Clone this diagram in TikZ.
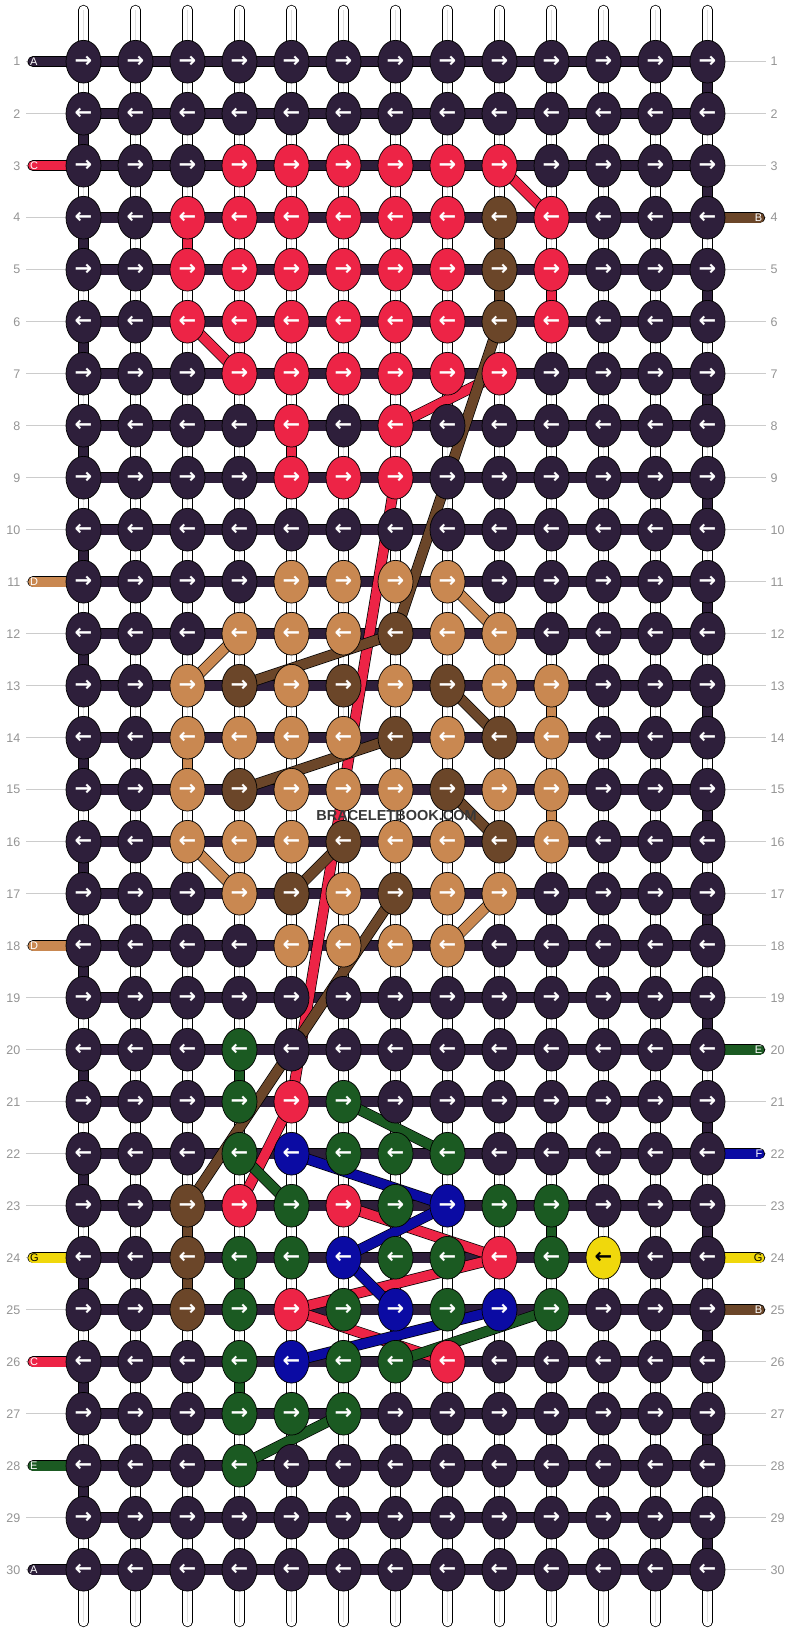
\documentclass[tikz,border=0pt]{standalone}
\usepackage{fontspec}
\setmainfont{Liberation Sans}
\newfontfamily\arrowfont{DejaVu Sans}[BoldFont={DejaVu Sans Bold}]
\usepackage{xstring}
\usetikzlibrary{shapes.geometric}

\definecolor{kA}{HTML}{2E1F3B}
\definecolor{kB}{HTML}{6B4629}
\definecolor{kC}{HTML}{ED2446}
\definecolor{kD}{HTML}{C98851}
\definecolor{kE}{HTML}{1B5A22}
\definecolor{kF}{HTML}{0B0BA3}
\definecolor{kG}{HTML}{F0D80C}
\colorlet{aA}{white}
\colorlet{aB}{white}
\colorlet{aC}{white}
\colorlet{aD}{white}
\colorlet{aE}{white}
\colorlet{aF}{white}
\colorlet{aG}{black}

\begin{document}
\begin{tikzpicture}[x=1pt,y=-1pt,
		warp/.style={draw=black,line width=0.8pt,double=white,double distance=8.6pt,line cap=round},
		thread/.style={draw=black,line width=0.7pt,double=k#1,double distance=9.6pt},
		knot/.style={ellipse,draw=black,line width=0.7pt,fill=k#1,text=a#1,
			minimum width=35pt,minimum height=42.7pt,inner sep=0pt,
			font=\arrowfont\bfseries\fontsize{21}{21}\selectfont},
		guide/.style={draw=black!20,line width=0.8pt},
		rownum/.style={text=black!42,font=\fontsize{12.5}{13}\selectfont,inner sep=0pt},
		tabtext/.style={text=a#1,font=\fontsize{11}{11}\selectfont,inner sep=0pt}]
	
	\useasboundingbox (0,0) rectangle (792,1632);
	
	\foreach \r in {1,...,30}
		\foreach \c in {1,...,13}
			\coordinate (p-\r-\c) at ({31.5+52*\c},{9.7+52*\r});
	
	\foreach \c in {1,...,13} {
		\coordinate (top-\c) at ({31.5+52*\c},10);
		\coordinate (bot-\c) at ({31.5+52*\c},1622);
		\draw[warp] (top-\c) -- (bot-\c);
		\draw[draw=black!12,line width=0.7pt] (top-\c) -- (bot-\c);
	}
	
	\foreach \r in {1,...,30} {
		\coordinate (gl-\r) at (26,{9.7+52*\r});
		\coordinate (gr-\r) at (766,{9.7+52*\r});
		\draw[guide] (gl-\r) -- (p-\r-1);
		\draw[guide] (p-\r-13) -- (gr-\r);
		\node[rownum,anchor=east] (nl-\r) at (20.5,{9.7+52*\r}) {\r};
		\node[rownum,anchor=west] (nr-\r) at (770.5,{9.7+52*\r}) {\r};
	}
	
	\foreach \r/\kc in {1/A,3/C,11/D,18/D,24/G,26/C,28/E,30/A} {
		\coordinate (tl-\r) at (33,{9.7+52*\r});
		\draw[thread=\kc,line cap=round] (tl-\r) -- (p-\r-1);
		\node[tabtext=\kc,anchor=west] (ltab-\r) at (30,{9.7+52*\r}) {\kc};
	}
	\foreach \r/\kc in {4/B,20/E,22/F,24/G,25/B} {
		\coordinate (tr-\r) at (759.5,{9.7+52*\r});
		\draw[thread=\kc,line cap=round] (p-\r-13) -- (tr-\r);
		\node[tabtext=\kc,anchor=east] (rtab-\r) at (762.5,{9.7+52*\r}) {\kc};
	}
	
	\foreach \r in {1,...,30}
		\draw[thread=A] (p-\r-1) -- (p-\r-13);
	\foreach \r [evaluate=\r as \nr using int(\r+1)] in {1,3,...,29}
		\draw[thread=A] (p-\r-13) -- (p-\nr-13);
	\foreach \r [evaluate=\r as \nr using int(\r+1)] in {2,4,...,28}
		\draw[thread=A] (p-\r-1) -- (p-\nr-1);
	
	\foreach \c/\r/\kc [evaluate=\r as \nr using int(\r+1)] in {3/4/C,3/14/D,3/23/B,3/24/B,
			4/20/E,4/24/E,4/26/E,5/8/C,9/4/B,9/5/B,10/5/C,10/13/D,10/15/D,10/23/E}
		\draw[thread=\kc] (p-\r-\c) -- (p-\nr-\c);
	
	\foreach \kc/\a/\b in {C/3-9/4-10,C/6-3/7-4,C/7-9/8-7,C/9-7/21-5,C/21-5/23-4,
			C/23-6/24-9,C/24-9/25-5,C/25-5/26-8,
			B/6-9/12-7,B/12-7/13-4,B/13-8/14-9,B/14-7/15-4,B/15-8/16-9,B/16-6/17-5,B/17-7/23-3,
			D/11-8/12-9,D/12-4/13-3,D/16-3/17-4,D/17-9/18-8,
			E/21-6/22-8,E/22-4/23-5,E/25-10/26-7,E/27-6/28-4,
			F/22-5/23-8,F/23-8/24-6,F/24-6/25-7,F/25-9/26-5}
		\draw[thread=\kc] (p-\a) -- (p-\b);
	
	\foreach \row [count=\r] in {AAAAAAAAAAAAA,AAAAAAAAAAAAA,AAACCCCCCAAAA,AACCCCCCBCAAA,
			AACCCCCCBCAAA,AACCCCCCBCAAA,AAACCCCCCAAAA,AAAACACAAAAAA,AAAACCCAAAAAA,
			AAAAAAAAAAAAA,AAAADDDDAAAAA,AAADDDBDDAAAA,AADBDBDBDDAAA,AADDDDBDBDAAA,
			AADBDDDBDDAAA,AADDDBDDBDAAA,AAADBDBDDAAAA,AAAADDDDAAAAA,AAAAAAAAAAAAA,
			AAAEAAAAAAAAA,AAAECEAAAAAAA,AAAEFEEEAAAAA,AABCECEFEEAAA,AABEEFEECEGAA,
			AABECEFEFEAAA,AAAEFEECAAAAA,AAAEEEAAAAAAA,AAAEAAAAAAAAA,AAAAAAAAAAAAA,
			AAAAAAAAAAAAA} {
		\foreach \c in {1,...,13} {
			\StrChar{\row}{\c}[\kc]
			\node[knot=\kc] (k-\r-\c) at (p-\r-\c) {\ifodd\r →\else ←\fi};
		}
	}
	
	\node[text=black!78,font=\bfseries\fontsize{14.5}{15}\selectfont,inner sep=0pt]
		(mark) at (396.5,815) {BRACELETBOOK.COM};
\end{tikzpicture}
\end{document}
